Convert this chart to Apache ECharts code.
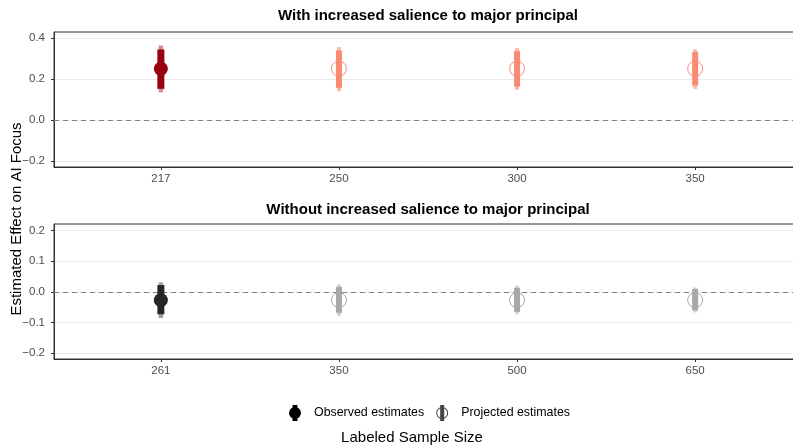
<!DOCTYPE html>
<html>
<head>
<meta charset="utf-8">
<script src="https://cdn.jsdelivr.net/npm/echarts@6/dist/echarts.min.js"></script>
<style>html,body{margin:0;padding:0;background:#fff;}#c{width:793px;height:448px;}</style>
</head>
<body>
<div id="c"></div>
<script>
// ---- data ----
const panelTitles = ['With increased salience to major principal', 'Without increased salience to major principal'];
const topCats = ['217', '250', '300', '350'];
const topType = ['observed', 'projected', 'projected', 'projected'];
const topEst  = [0.25, 0.25, 0.25, 0.25];
const topLo80 = [0.152, 0.157, 0.163, 0.168];
const topHi80 = [0.344, 0.339, 0.336, 0.331];
const topLo95 = [0.135, 0.140, 0.147, 0.152];
const topHi95 = [0.363, 0.355, 0.350, 0.344];
const topYTicks = [-0.2, 0.0, 0.2, 0.4];

const botCats = ['261', '350', '500', '650'];
const botType = ['observed', 'projected', 'projected', 'projected'];
const botEst  = [-0.027, -0.027, -0.027, -0.027];
const botLo80 = [-0.073, -0.068, -0.065, -0.060];
const botHi80 = [0.022, 0.016, 0.013, 0.009];
const botLo95 = [-0.085, -0.078, -0.073, -0.067];
const botHi95 = [0.031, 0.024, 0.020, 0.014];
const botYTicks = [-0.2, -0.1, 0.0, 0.1, 0.2];

const xLabel = 'Labeled Sample Size';
const yLabel = 'Estimated Effect on AI Focus';
const legendNames = ['Observed estimates', 'Projected estimates'];

// ---- styling ----
const FONT = 'Liberation Sans, Arial, Helvetica, sans-serif';
const styles = [
  { obs: '#99000f', obsLight: '#d68a93', proj: '#fb8a72', projLight: '#fcb8a8' },
  { obs: '#262626', obsLight: '#a0a0a0', proj: '#a8a8a8', projLight: '#d2d2d2' }
];

const chart = echarts.init(document.getElementById('c'), null, { renderer: 'canvas' });

function fmtY(v) {
  const s = Math.abs(v).toFixed(1);
  return v < -1e-9 ? '\u2212' + s : s;
}

function makeAxes(gi, cats, yTicks, ymin, ymax) {
  const idx = cats.map((c, i) => i);
  const x = {
    type: 'value', gridIndex: gi, min: -0.6, max: 3.6,
    axisLine: { show: true, onZero: false, lineStyle: { color: '#333', width: 1 } },
    axisTick: { show: true, customValues: idx, length: 3, lineStyle: { color: '#333' } },
    axisLabel: { customValues: idx, formatter: v => cats[Math.round(v)], color: '#4d4d4d', fontSize: 11.5, fontFamily: FONT, margin: 6 },
    splitLine: { show: false }
  };
  const y = {
    type: 'value', gridIndex: gi, min: ymin, max: ymax,
    axisLine: { show: true, onZero: false, lineStyle: { color: '#333', width: 1 } },
    axisTick: { show: true, customValues: yTicks, length: 3, lineStyle: { color: '#333' } },
    axisLabel: { customValues: yTicks, formatter: fmtY, color: '#4d4d4d', fontSize: 11.5, fontFamily: FONT, margin: 9 },
    splitLine: { show: true, lineStyle: { color: '#ebebeb', width: 1 } }
  };
  return [x, y];
}

function barSeries(gi, type, lo, hi, st, light, wObs, wProj, z) {
  return {
    type: 'custom', xAxisIndex: gi, yAxisIndex: gi, z: z, silent: true,
    data: lo.map((v, i) => [i, v, hi[i]]),
    renderItem: (params, api) => {
      const i = params.dataIndex;
      const xv = api.value(0);
      const a = api.coord([xv, api.value(1)]);
      const b = api.coord([xv, api.value(2)]);
      const obs = type[i] === 'observed';
      const w = obs ? wObs : wProj;
      const col = light ? (obs ? st.obsLight : st.projLight) : (obs ? st.obs : st.proj);
      return { type: 'rect', shape: { x: a[0] - w / 2, y: b[1], width: w, height: a[1] - b[1] }, style: { fill: col } };
    }
  };
}

function panelSeries(gi, type, est, lo80, hi80, lo95, hi95) {
  const st = styles[gi];
  const obsData = [], projData = [];
  est.forEach((v, i) => { (type[i] === 'observed' ? obsData : projData).push([i, v]); });
  return [
    barSeries(gi, type, lo95, hi95, st, true, 4.5, 4, 3),
    barSeries(gi, type, lo80, hi80, st, false, 7, 6, 4),
    {
      name: legendNames[0], type: 'scatter', xAxisIndex: gi, yAxisIndex: gi, z: 5,
      symbol: 'circle', symbolSize: 14, data: obsData,
      itemStyle: { color: st.obs, opacity: 1 }, emphasis: { disabled: true }
    },
    {
      name: legendNames[1], type: 'scatter', xAxisIndex: gi, yAxisIndex: gi, z: 2,
      symbol: 'circle', symbolSize: 15, data: projData,
      itemStyle: { color: 'rgba(0,0,0,0)', borderColor: st.proj, borderWidth: 1, opacity: 1 }, emphasis: { disabled: true },
      markLine: {
        silent: true, symbol: ['none', 'none'], label: { show: false }, z: 1,
        lineStyle: { color: '#7f7f7f', type: [5, 4], width: 1 },
        data: [{ yAxis: 0 }]
      }
    }
  ];
}

const [x0, y0] = makeAxes(0, topCats, topYTicks, -0.229, 0.429);
const [x1, y1] = makeAxes(1, botCats, botYTicks, -0.2186, 0.2208);

const obsIcon = 'path://M0 8 A6 6 0 1 1 12 8 A6 6 0 1 1 0 8 Z M3.5 0 L8.5 0 L8.5 16 L3.5 16 Z';
const projIcon = 'path://M0 8 A6 6 0 1 1 12 8 A6 6 0 1 1 0 8 Z M1 8 A5 5 0 1 0 11 8 A5 5 0 1 0 1 8 Z M4 0 L8 0 L8 16 L4 16 Z';

chart.setOption({
  animation: false,
  backgroundColor: '#ffffff',
  textStyle: { fontFamily: FONT },
  title: [
    { text: panelTitles[0], left: 423, top: 3, textAlign: 'center', padding: 5, textStyle: { fontSize: 15, fontWeight: 'bold', color: '#000', fontFamily: FONT } },
    { text: panelTitles[1], left: 423, top: 197, textAlign: 'center', padding: 5, textStyle: { fontSize: 15, fontWeight: 'bold', color: '#000', fontFamily: FONT } }
  ],
  grid: [
    { left: 54, top: 32, width: 748, height: 135, show: true, borderColor: '#333', borderWidth: 1, backgroundColor: '#fff', outerBoundsMode: 'none', containLabel: false },
    { left: 54, top: 224, width: 748, height: 135, show: true, borderColor: '#333', borderWidth: 1, backgroundColor: '#fff', outerBoundsMode: 'none', containLabel: false }
  ],
  xAxis: [x0, x1],
  yAxis: [y0, y1],
  legend: {
    left: 284, top: 400, itemWidth: 28, itemHeight: 16, itemGap: 12,
    textStyle: { fontSize: 12.4, color: '#000', fontFamily: FONT },
    selectedMode: false,
    data: [
      { name: legendNames[0], icon: obsIcon, itemStyle: { color: '#000', borderWidth: 0 } },
      { name: legendNames[1], icon: projIcon, itemStyle: { color: '#444', borderWidth: 0 } }
    ]
  },
  graphic: [
    { type: 'text', x: 412, y: 438, style: { text: xLabel, font: '15px ' + FONT, fill: '#000', align: 'center', verticalAlign: 'middle' } },
    { type: 'text', x: 17, y: 219, rotation: Math.PI / 2, style: { text: yLabel, font: '15px ' + FONT, fill: '#000', align: 'center', verticalAlign: 'middle' } }
  ],
  series: [
    ...panelSeries(0, topType, topEst, topLo80, topHi80, topLo95, topHi95),
    ...panelSeries(1, botType, botEst, botLo80, botHi80, botLo95, botHi95)
  ]
});
</script>
</body>
</html>
